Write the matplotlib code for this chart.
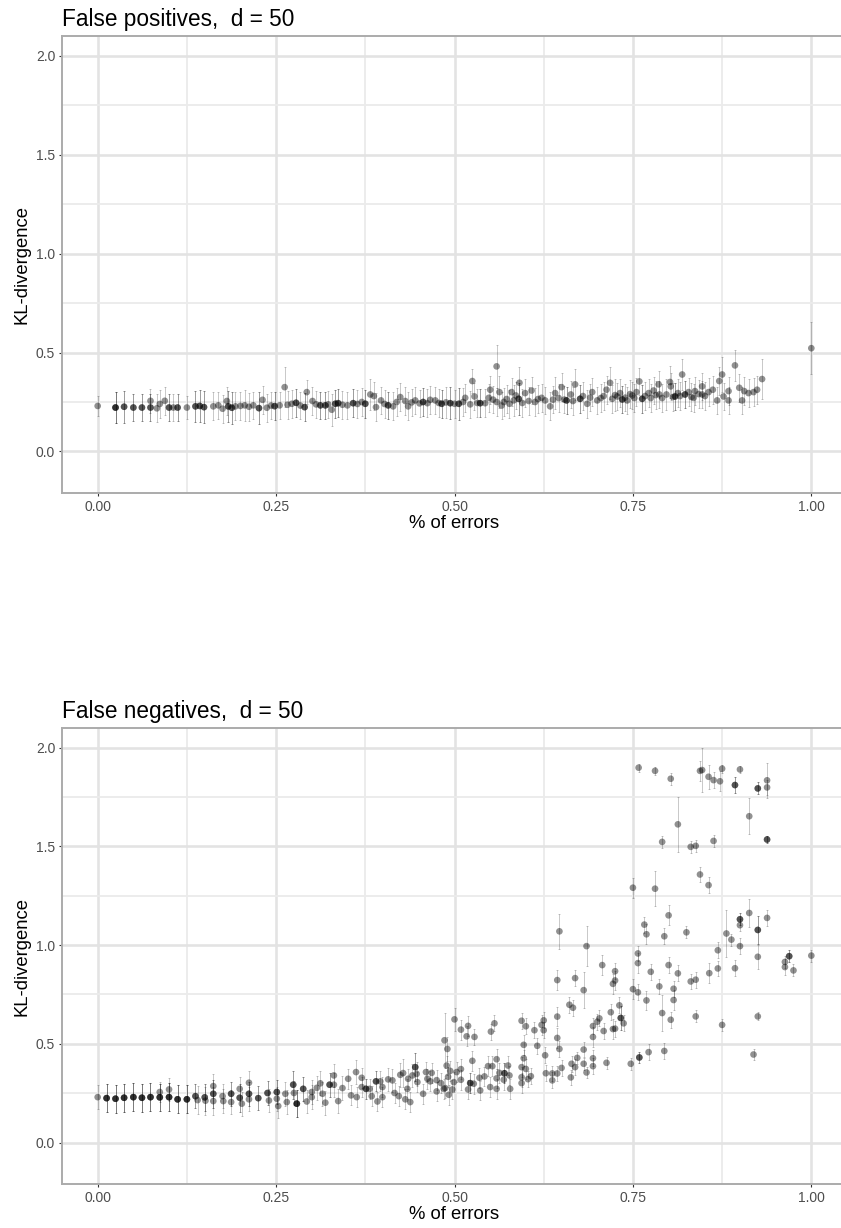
import numpy as np
import matplotlib
matplotlib.use("Agg")
import matplotlib.pyplot as plt
from matplotlib.ticker import MultipleLocator, FormatStrFormatter

plt.rcParams['font.family'] = ['Liberation Sans', 'DejaVu Sans']

# ---- False positives: share of errors, mean KL, error half-width, overlapping runs
fp_x = [0.000, 0.025, 0.037, 0.050, 0.062, 0.074, 0.074, 0.083, 0.087, 0.094,
        0.100, 0.106, 0.112, 0.125, 0.137, 0.143, 0.149, 0.162, 0.169, 0.175,
        0.181, 0.183, 0.188, 0.193, 0.200, 0.206, 0.212, 0.218, 0.226, 0.231,
        0.237, 0.243, 0.248, 0.255, 0.262, 0.266, 0.272, 0.278, 0.284, 0.290,
        0.293, 0.301, 0.306, 0.312, 0.319, 0.323, 0.328, 0.333, 0.337, 0.343,
        0.350, 0.358, 0.364, 0.370, 0.375, 0.382, 0.387, 0.390, 0.397, 0.402,
        0.407, 0.414, 0.419, 0.424, 0.431, 0.435, 0.440, 0.445, 0.451, 0.456,
        0.462, 0.466, 0.473, 0.478, 0.482, 0.488, 0.494, 0.500, 0.506, 0.512,
        0.515, 0.522, 0.525, 0.528, 0.532, 0.536, 0.543, 0.548, 0.550, 0.554,
        0.559, 0.559, 0.563, 0.566, 0.569, 0.573, 0.577, 0.580, 0.583, 0.586,
        0.590, 0.591, 0.595, 0.599, 0.604, 0.608, 0.613, 0.617, 0.622, 0.627,
        0.634, 0.638, 0.641, 0.646, 0.650, 0.654, 0.657, 0.663, 0.666, 0.669,
        0.676, 0.680, 0.686, 0.690, 0.693, 0.700, 0.705, 0.709, 0.713, 0.718,
        0.721, 0.725, 0.728, 0.732, 0.735, 0.739, 0.742, 0.746, 0.749, 0.752,
        0.755, 0.759, 0.763, 0.767, 0.772, 0.775, 0.779, 0.782, 0.786, 0.787,
        0.791, 0.797, 0.802, 0.803, 0.806, 0.809, 0.813, 0.816, 0.819, 0.823,
        0.828, 0.832, 0.835, 0.837, 0.842, 0.847, 0.847, 0.851, 0.856, 0.862,
        0.868, 0.871, 0.875, 0.877, 0.884, 0.884, 0.893, 0.899, 0.903, 0.906,
        0.912, 0.919, 0.924, 0.931, 1.000]
fp_y = [0.230, 0.222, 0.226, 0.222, 0.222, 0.222, 0.256, 0.218, 0.240, 0.256,
        0.222, 0.222, 0.222, 0.222, 0.228, 0.230, 0.224, 0.228, 0.233, 0.216,
        0.255, 0.228, 0.221, 0.228, 0.230, 0.233, 0.226, 0.233, 0.219, 0.261,
        0.221, 0.232, 0.229, 0.233, 0.325, 0.236, 0.241, 0.246, 0.232, 0.224,
        0.300, 0.255, 0.238, 0.233, 0.233, 0.238, 0.211, 0.241, 0.244, 0.236,
        0.233, 0.244, 0.240, 0.250, 0.241, 0.288, 0.280, 0.224, 0.258, 0.240,
        0.233, 0.228, 0.250, 0.275, 0.255, 0.228, 0.248, 0.258, 0.243, 0.250,
        0.244, 0.261, 0.258, 0.245, 0.241, 0.248, 0.244, 0.241, 0.241, 0.250,
        0.271, 0.238, 0.356, 0.278, 0.245, 0.244, 0.244, 0.271, 0.312, 0.262,
        0.430, 0.250, 0.300, 0.232, 0.250, 0.265, 0.241, 0.300, 0.258, 0.283,
        0.266, 0.347, 0.245, 0.295, 0.255, 0.308, 0.250, 0.265, 0.271, 0.258,
        0.228, 0.262, 0.295, 0.270, 0.325, 0.262, 0.258, 0.288, 0.255, 0.339,
        0.266, 0.280, 0.241, 0.272, 0.300, 0.258, 0.270, 0.280, 0.312, 0.347,
        0.266, 0.285, 0.278, 0.295, 0.263, 0.272, 0.258, 0.290, 0.283, 0.270,
        0.300, 0.354, 0.266, 0.280, 0.295, 0.270, 0.308, 0.285, 0.339, 0.288,
        0.270, 0.288, 0.351, 0.329, 0.275, 0.278, 0.295, 0.280, 0.389, 0.288,
        0.300, 0.275, 0.271, 0.305, 0.290, 0.329, 0.288, 0.280, 0.300, 0.312,
        0.258, 0.356, 0.389, 0.278, 0.305, 0.258, 0.435, 0.322, 0.258, 0.305,
        0.295, 0.300, 0.312, 0.366, 0.522]
fp_err = [0.05, 0.08, 0.08, 0.07, 0.07, 0.07, 0.06, 0.07, 0.07, 0.07,
          0.07, 0.07, 0.07, 0.06, 0.08, 0.08, 0.08, 0.07, 0.07, 0.07,
          0.07, 0.08, 0.08, 0.07, 0.07, 0.08, 0.07, 0.07, 0.08, 0.07,
          0.07, 0.07, 0.07, 0.07, 0.10, 0.07, 0.07, 0.07, 0.07, 0.07,
          0.06, 0.07, 0.07, 0.07, 0.07, 0.07, 0.08, 0.07, 0.07, 0.07,
          0.07, 0.07, 0.07, 0.07, 0.07, 0.08, 0.07, 0.07, 0.07, 0.07,
          0.07, 0.07, 0.07, 0.07, 0.07, 0.07, 0.07, 0.07, 0.07, 0.07,
          0.07, 0.07, 0.07, 0.07, 0.07, 0.08, 0.08, 0.07, 0.08, 0.07,
          0.07, 0.07, 0.06, 0.07, 0.07, 0.07, 0.07, 0.07, 0.07, 0.07,
          0.11, 0.07, 0.08, 0.07, 0.07, 0.07, 0.07, 0.07, 0.08, 0.07,
          0.08, 0.08, 0.07, 0.07, 0.07, 0.07, 0.07, 0.07, 0.07, 0.07,
          0.07, 0.07, 0.08, 0.07, 0.07, 0.07, 0.07, 0.07, 0.07, 0.08,
          0.07, 0.07, 0.07, 0.07, 0.07, 0.07, 0.07, 0.07, 0.07, 0.08,
          0.07, 0.08, 0.07, 0.07, 0.07, 0.07, 0.07, 0.07, 0.07, 0.07,
          0.07, 0.07, 0.07, 0.07, 0.07, 0.07, 0.07, 0.07, 0.07, 0.07,
          0.07, 0.08, 0.08, 0.07, 0.07, 0.07, 0.07, 0.07, 0.08, 0.07,
          0.07, 0.07, 0.07, 0.07, 0.07, 0.07, 0.07, 0.07, 0.07, 0.07,
          0.07, 0.07, 0.09, 0.07, 0.07, 0.07, 0.08, 0.07, 0.07, 0.07,
          0.07, 0.07, 0.07, 0.10, 0.13]
fp_n = [1, 3, 2, 2, 2, 2, 1, 1, 1, 1,
        2, 1, 2, 1, 2, 2, 2, 1, 1, 1,
        1, 2, 2, 1, 1, 1, 1, 1, 2, 1,
        1, 1, 2, 1, 1, 1, 1, 2, 1, 2,
        1, 1, 1, 2, 2, 1, 1, 2, 2, 1,
        1, 2, 1, 1, 2, 1, 1, 1, 1, 1,
        2, 1, 1, 1, 1, 1, 1, 1, 1, 2,
        1, 1, 1, 1, 2, 1, 2, 1, 2, 1,
        1, 1, 1, 1, 1, 2, 1, 1, 1, 1,
        1, 1, 1, 1, 1, 1, 1, 1, 1, 1,
        2, 1, 1, 1, 1, 1, 1, 1, 1, 1,
        1, 1, 1, 1, 1, 1, 2, 1, 1, 1,
        2, 1, 1, 1, 1, 1, 1, 1, 1, 1,
        1, 1, 1, 1, 2, 1, 1, 1, 1, 1,
        1, 1, 2, 1, 1, 1, 1, 1, 1, 1,
        1, 1, 1, 1, 1, 2, 1, 1, 1, 2,
        1, 1, 1, 1, 1, 1, 1, 1, 1, 1,
        1, 1, 1, 1, 1, 1, 1, 1, 1, 1,
        1, 1, 1, 1, 1]

# ---- False negatives
fn_x = [0.000, 0.0125, 0.025, 0.037, 0.050, 0.062, 0.074, 0.087, 0.087, 0.100,
        0.100, 0.112, 0.125, 0.137, 0.140, 0.150, 0.151, 0.162, 0.162, 0.162,
        0.175, 0.176, 0.187, 0.187, 0.199, 0.199, 0.202, 0.212, 0.212, 0.212,
        0.225, 0.238, 0.240, 0.251, 0.251, 0.253, 0.263, 0.265, 0.274, 0.275,
        0.279, 0.288, 0.293, 0.300, 0.300, 0.307, 0.312, 0.315, 0.319, 0.325,
        0.331, 0.331, 0.337, 0.343, 0.351, 0.355, 0.362, 0.363, 0.370, 0.370,
        0.376, 0.381, 0.384, 0.390, 0.392, 0.396, 0.399, 0.399, 0.407, 0.413,
        0.416, 0.422, 0.424, 0.428, 0.431, 0.434, 0.435, 0.438, 0.441, 0.445,
        0.447, 0.448, 0.456, 0.460, 0.462, 0.466, 0.468, 0.475, 0.475, 0.481,
        0.485, 0.486, 0.487, 0.489, 0.490, 0.491, 0.492, 0.494, 0.497, 0.499,
        0.500, 0.503, 0.509, 0.509, 0.509, 0.517, 0.519, 0.519, 0.522, 0.525,
        0.527, 0.528, 0.535, 0.536, 0.542, 0.547, 0.550, 0.551, 0.553, 0.556,
        0.559, 0.559, 0.559, 0.563, 0.569, 0.570, 0.575, 0.577, 0.578, 0.594,
        0.594, 0.594, 0.594, 0.597, 0.597, 0.600, 0.600, 0.603, 0.607, 0.612,
        0.616, 0.622, 0.625, 0.625, 0.627, 0.628, 0.637, 0.637, 0.644, 0.644,
        0.644, 0.644, 0.647, 0.647, 0.650, 0.661, 0.663, 0.664, 0.666, 0.669,
        0.669, 0.672, 0.681, 0.681, 0.681, 0.685, 0.685, 0.694, 0.694, 0.694,
        0.694, 0.700, 0.703, 0.707, 0.709, 0.713, 0.719, 0.722, 0.722, 0.725,
        0.725, 0.725, 0.731, 0.733, 0.737, 0.747, 0.750, 0.750, 0.757, 0.757,
        0.757, 0.758, 0.759, 0.766, 0.769, 0.769, 0.772, 0.775, 0.781, 0.781,
        0.787, 0.791, 0.791, 0.794, 0.794, 0.800, 0.800, 0.803, 0.803, 0.807,
        0.807, 0.813, 0.813, 0.825, 0.831, 0.831, 0.838, 0.838, 0.838, 0.844,
        0.844, 0.847, 0.856, 0.856, 0.857, 0.863, 0.863, 0.869, 0.869, 0.872,
        0.875, 0.875, 0.881, 0.888, 0.893, 0.893, 0.900, 0.900, 0.900, 0.900,
        0.913, 0.913, 0.919, 0.925, 0.925, 0.925, 0.925, 0.938, 0.938, 0.938,
        0.938, 0.963, 0.963, 0.969, 0.975, 1.000]
fn_y = [0.230, 0.225, 0.222, 0.227, 0.230, 0.227, 0.230, 0.229, 0.256, 0.230,
        0.269, 0.219, 0.219, 0.235, 0.215, 0.229, 0.212, 0.286, 0.247, 0.210,
        0.235, 0.210, 0.247, 0.205, 0.272, 0.227, 0.197, 0.303, 0.247, 0.219,
        0.225, 0.251, 0.213, 0.256, 0.222, 0.185, 0.247, 0.205, 0.293, 0.251,
        0.197, 0.272, 0.208, 0.256, 0.230, 0.277, 0.300, 0.247, 0.202, 0.293,
        0.340, 0.293, 0.210, 0.276, 0.323, 0.239, 0.357, 0.230, 0.328, 0.281,
        0.272, 0.272, 0.235, 0.310, 0.208, 0.310, 0.281, 0.230, 0.320, 0.315,
        0.251, 0.235, 0.343, 0.352, 0.219, 0.272, 0.323, 0.205, 0.340, 0.382,
        0.348, 0.306, 0.247, 0.357, 0.323, 0.310, 0.353, 0.316, 0.259, 0.301,
        0.272, 0.518, 0.276, 0.390, 0.474, 0.333, 0.242, 0.363, 0.269, 0.306,
        0.624, 0.357, 0.572, 0.372, 0.318, 0.538, 0.591, 0.269, 0.301, 0.414,
        0.298, 0.535, 0.328, 0.264, 0.335, 0.387, 0.281, 0.562, 0.387, 0.604,
        0.422, 0.325, 0.272, 0.353, 0.318, 0.351, 0.390, 0.340, 0.272, 0.617,
        0.382, 0.331, 0.301, 0.495, 0.427, 0.589, 0.373, 0.321, 0.336, 0.569,
        0.490, 0.596, 0.619, 0.569, 0.442, 0.351, 0.315, 0.350, 0.823, 0.638,
        0.530, 0.350, 1.070, 0.474, 0.378, 0.698, 0.330, 0.399, 0.683, 0.833,
        0.382, 0.429, 0.772, 0.471, 0.399, 0.995, 0.355, 0.590, 0.535, 0.427,
        0.387, 0.612, 0.629, 0.899, 0.565, 0.404, 0.660, 0.804, 0.575, 0.868,
        0.821, 0.577, 0.695, 0.631, 0.604, 0.399, 1.291, 0.777, 0.958, 0.909,
        0.761, 1.899, 0.431, 1.104, 1.055, 0.720, 0.458, 0.865, 1.883, 1.286,
        0.791, 1.523, 0.656, 1.045, 0.464, 1.151, 0.899, 1.843, 0.622, 0.779,
        0.722, 1.612, 0.857, 1.065, 1.498, 0.816, 1.503, 0.825, 0.639, 1.883,
        1.358, 1.887, 1.853, 1.304, 0.858, 1.836, 1.528, 0.974, 0.882, 1.830,
        1.894, 0.596, 1.059, 1.028, 1.811, 0.883, 1.890, 1.131, 1.101, 0.995,
        1.653, 1.163, 0.446, 1.794, 1.077, 0.941, 0.639, 1.835, 1.799, 1.535,
        1.138, 0.915, 0.889, 0.944, 0.872, 0.947]
fn_err = [0.06, 0.07, 0.07, 0.07, 0.07, 0.07, 0.07, 0.07, 0.05, 0.07,
          0.06, 0.07, 0.07, 0.06, 0.07, 0.07, 0.07, 0.06, 0.07, 0.07,
          0.06, 0.06, 0.06, 0.06, 0.06, 0.07, 0.06, 0.06, 0.06, 0.06,
          0.06, 0.06, 0.06, 0.06, 0.06, 0.06, 0.06, 0.06, 0.07, 0.06,
          0.07, 0.06, 0.06, 0.06, 0.06, 0.06, 0.06, 0.06, 0.06, 0.06,
          0.06, 0.06, 0.06, 0.06, 0.05, 0.05, 0.06, 0.05, 0.05, 0.05,
          0.05, 0.05, 0.05, 0.05, 0.05, 0.05, 0.05, 0.05, 0.06, 0.06,
          0.05, 0.05, 0.06, 0.07, 0.05, 0.05, 0.05, 0.05, 0.06, 0.07,
          0.06, 0.05, 0.05, 0.05, 0.05, 0.05, 0.05, 0.05, 0.05, 0.05,
          0.05, 0.14, 0.05, 0.05, 0.06, 0.05, 0.05, 0.05, 0.05, 0.05,
          0.06, 0.05, 0.05, 0.05, 0.05, 0.05, 0.05, 0.05, 0.05, 0.05,
          0.05, 0.04, 0.05, 0.05, 0.05, 0.05, 0.05, 0.04, 0.05, 0.04,
          0.05, 0.05, 0.05, 0.05, 0.05, 0.05, 0.05, 0.05, 0.05, 0.04,
          0.05, 0.05, 0.05, 0.05, 0.04, 0.04, 0.05, 0.04, 0.04, 0.04,
          0.04, 0.05, 0.04, 0.04, 0.04, 0.04, 0.04, 0.04, 0.05, 0.05,
          0.05, 0.04, 0.09, 0.04, 0.04, 0.04, 0.04, 0.04, 0.04, 0.04,
          0.04, 0.03, 0.09, 0.04, 0.03, 0.10, 0.03, 0.04, 0.05, 0.04,
          0.04, 0.04, 0.04, 0.05, 0.04, 0.03, 0.04, 0.05, 0.05, 0.04,
          0.05, 0.04, 0.04, 0.06, 0.04, 0.03, 0.05, 0.05, 0.04, 0.05,
          0.04, 0.02, 0.03, 0.04, 0.05, 0.05, 0.04, 0.04, 0.02, 0.09,
          0.04, 0.03, 0.09, 0.04, 0.04, 0.05, 0.04, 0.03, 0.04, 0.04,
          0.05, 0.14, 0.04, 0.03, 0.03, 0.04, 0.03, 0.04, 0.03, 0.05,
          0.04, 0.11, 0.06, 0.04, 0.05, 0.04, 0.03, 0.04, 0.04, 0.05,
          0.02, 0.03, 0.12, 0.03, 0.04, 0.04, 0.02, 0.03, 0.03, 0.04,
          0.09, 0.07, 0.03, 0.03, 0.07, 0.06, 0.02, 0.09, 0.04, 0.02,
          0.04, 0.03, 0.04, 0.03, 0.03, 0.03]
fn_n = [1, 3, 3, 3, 3, 3, 3, 3, 1, 3,
        1, 3, 3, 2, 1, 2, 1, 1, 2, 1,
        1, 1, 2, 1, 1, 2, 1, 1, 2, 1,
        2, 2, 1, 2, 1, 1, 1, 1, 2, 1,
        3, 2, 1, 1, 1, 1, 1, 1, 1, 2,
        1, 1, 1, 1, 1, 1, 1, 1, 1, 1,
        2, 1, 1, 2, 1, 1, 1, 1, 1, 1,
        1, 1, 1, 1, 1, 1, 1, 1, 1, 2,
        1, 1, 1, 1, 1, 1, 1, 1, 1, 1,
        1, 1, 1, 1, 1, 1, 1, 1, 1, 1,
        1, 1, 1, 1, 1, 1, 1, 1, 2, 1,
        1, 1, 1, 1, 1, 1, 1, 1, 1, 1,
        1, 1, 1, 1, 1, 2, 1, 1, 1, 1,
        1, 1, 1, 1, 1, 1, 1, 1, 1, 1,
        1, 1, 1, 1, 1, 1, 1, 1, 1, 1,
        1, 1, 1, 1, 1, 1, 1, 1, 1, 1,
        1, 1, 1, 1, 1, 1, 1, 1, 1, 1,
        1, 1, 1, 1, 1, 1, 1, 1, 1, 1,
        1, 1, 1, 2, 1, 1, 1, 1, 1, 1,
        1, 1, 2, 1, 1, 1, 1, 1, 1, 1,
        1, 1, 1, 1, 1, 1, 1, 1, 1, 1,
        1, 1, 1, 1, 1, 1, 1, 1, 1, 1,
        1, 1, 1, 1, 1, 1, 1, 1, 1, 1,
        1, 1, 1, 1, 2, 1, 1, 2, 1, 1,
        1, 1, 1, 2, 2, 1, 1, 1, 1, 2,
        1, 1, 1, 2, 1, 1]

titles = ["False positives,  d = 50", "False negatives,  d = 50"]
panels = [(fp_x, fp_y, fp_err, fp_n), (fn_x, fn_y, fn_err, fn_n)]

W, H = 841, 1228
fig = plt.figure(figsize=(W / 100, H / 100), dpi=100)
# panel boxes in pixels: (left, top, right, bottom); right edge runs past the image
boxes = [(62, 36, 847, 493), (62, 728, 847, 1184)]

for (x, y, err, n), title, (l, t, r, b) in zip(panels, titles, boxes):
    ax = fig.add_axes([l / W, 1 - b / H, (r - l) / W, (b - t) / H])
    x = np.repeat(x, n)
    y = np.repeat(y, n)
    err = np.repeat(err, n)

    ax.errorbar(x, y, yerr=err, fmt='none', ecolor='black', alpha=0.22,
                elinewidth=0.7, capsize=0.8, capthick=0.7, zorder=2)
    ax.scatter(x, y, s=23, color='black', alpha=0.43, edgecolors='none', zorder=3)

    ax.set_xlim(-0.05, 1.05)
    ax.set_ylim(-0.21, 2.10)
    ax.xaxis.set_major_locator(MultipleLocator(0.25))
    ax.xaxis.set_minor_locator(MultipleLocator(0.125))
    ax.yaxis.set_major_locator(MultipleLocator(0.5))
    ax.yaxis.set_minor_locator(MultipleLocator(0.25))
    ax.xaxis.set_major_formatter(FormatStrFormatter('%.2f'))
    ax.yaxis.set_major_formatter(FormatStrFormatter('%.1f'))

    ax.grid(which='major', color='#E3E3E3', linewidth=1.9, zorder=0)
    ax.grid(which='minor', color='#EBEBEB', linewidth=1.3, zorder=0)
    ax.set_axisbelow(True)

    for side in ax.spines.values():
        side.set_color('#ABABAB')
        side.set_linewidth(1.4)

    ax.tick_params(which='major', length=2.4, width=0.8, color='#333333',
                   labelsize=10, labelcolor='#4D4D4D', pad=2.5)
    ax.tick_params(which='minor', length=0)

    ax.set_xlabel('% of errors', fontsize=13.3, labelpad=1)
    ax.set_ylabel('KL-divergence', fontsize=13.3, labelpad=4)
    ax.set_title(title, loc='left', fontsize=16.3, pad=7.5)

plt.savefig('out.png', dpi=100)
